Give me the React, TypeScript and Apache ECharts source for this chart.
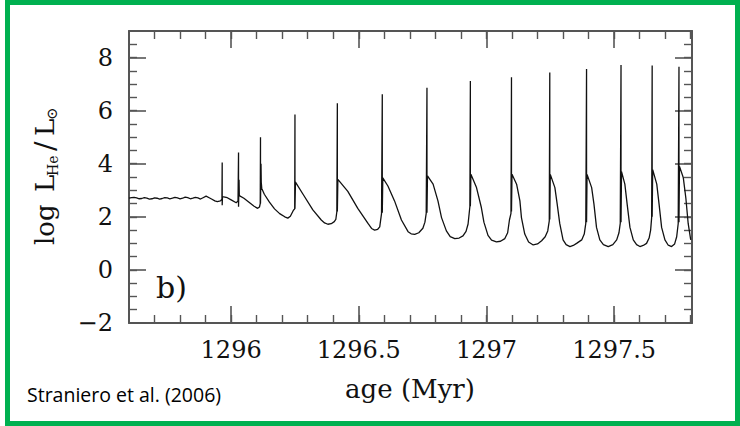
import React, { useEffect, useRef } from 'react';
import * as echarts from 'echarts';

// age (Myr) and log L_He/L_sun, segment by segment
const ages = [
  // quiescent phase
  1295.600, 1295.610, 1295.620, 1295.630, 1295.640, 1295.650, 1295.660, 1295.670, 1295.680, 1295.690,
  1295.700, 1295.710, 1295.720, 1295.730, 1295.740, 1295.750, 1295.760, 1295.770, 1295.780, 1295.790,
  1295.800, 1295.810, 1295.820, 1295.830, 1295.840, 1295.850, 1295.860, 1295.870, 1295.880, 1295.890,
  1295.902, 1295.914, 1295.925, 1295.936, 1295.946, 1295.958, 1295.964,
  // pulse 1
  1295.965, 1295.965, 1295.966, 1295.985, 1296.000, 1296.020, 1296.027,
  // pulse 2
  1296.029, 1296.029, 1296.031, 1296.032, 1296.050, 1296.070, 1296.090, 1296.104, 1296.111, 1296.114,
  // pulse 3
  1296.115, 1296.115, 1296.117, 1296.118, 1296.120, 1296.130, 1296.150, 1296.170, 1296.190, 1296.210,
  1296.222, 1296.232, 1296.244, 1296.249,
  // pulse 4
  1296.250, 1296.250, 1296.252, 1296.281, 1296.320, 1296.353, 1296.366, 1296.379, 1296.392, 1296.404,
  1296.410, 1296.414,
  // pulse 5
  1296.416, 1296.416, 1296.418, 1296.457, 1296.496, 1296.536, 1296.550, 1296.562, 1296.574, 1296.582,
  1296.589,
  // pulse 6
  1296.592, 1296.592, 1296.594, 1296.614, 1296.640, 1296.667, 1296.693, 1296.705, 1296.719, 1296.735,
  1296.751, 1296.759, 1296.764,
  // pulse 7
  1296.767, 1296.767, 1296.769, 1296.791, 1296.810, 1296.824, 1296.843, 1296.858, 1296.876, 1296.893,
  1296.908, 1296.920, 1296.928, 1296.935,
  // pulse 8
  1296.937, 1296.937, 1296.939, 1296.961, 1296.980, 1296.990, 1297.006, 1297.020, 1297.039, 1297.055,
  1297.072, 1297.083, 1297.090, 1297.096,
  // pulse 9
  1297.098, 1297.098, 1297.100, 1297.118, 1297.131, 1297.137, 1297.150, 1297.165, 1297.183, 1297.200,
  1297.216, 1297.230, 1297.240, 1297.246,
  // pulse 10
  1297.248, 1297.248, 1297.250, 1297.268, 1297.277, 1297.287, 1297.300, 1297.312, 1297.327, 1297.340,
  1297.353, 1297.373, 1297.383, 1297.389,
  // pulse 11
  1297.392, 1297.392, 1297.394, 1297.412, 1297.421, 1297.431, 1297.444, 1297.458, 1297.477, 1297.495,
  1297.510, 1297.519, 1297.524,
  // pulse 12
  1297.527, 1297.527, 1297.529, 1297.542, 1297.551, 1297.562, 1297.575, 1297.588, 1297.601, 1297.614,
  1297.627, 1297.637, 1297.643, 1297.647,
  // pulse 13
  1297.649, 1297.649, 1297.651, 1297.667, 1297.676, 1297.686, 1297.699, 1297.712, 1297.725, 1297.737,
  1297.745, 1297.751,
  // pulse 14
  1297.754, 1297.754, 1297.756, 1297.771, 1297.781, 1297.790, 1297.800,
];

const logLHe = [
  // quiescent phase
  2.70, 2.72, 2.73, 2.71, 2.68, 2.69, 2.72, 2.70, 2.67, 2.68,
  2.71, 2.70, 2.67, 2.69, 2.72, 2.71, 2.68, 2.70, 2.73, 2.71,
  2.68, 2.70, 2.74, 2.72, 2.68, 2.70, 2.73, 2.71, 2.67, 2.72,
  2.78, 2.72, 2.66, 2.60, 2.57, 2.60, 2.66,
  // pulse 1
  4.05, 2.44, 2.76, 2.72, 2.64, 2.53, 2.60,
  // pulse 2
  4.42, 2.38, 3.40, 2.80, 2.70, 2.55, 2.40, 2.32, 2.37, 2.50,
  // pulse 3
  5.00, 2.50, 4.00, 3.30, 3.07, 2.85, 2.55, 2.30, 2.12, 2.00,
  1.95, 2.02, 2.25, 2.30,
  // pulse 4
  5.85, 2.30, 3.31, 2.86, 2.26, 1.88, 1.77, 1.72, 1.74, 1.82,
  1.90, 2.19,
  // pulse 5
  6.28, 2.20, 3.41, 2.96, 2.32, 1.75, 1.56, 1.50, 1.53, 1.62,
  2.12,
  // pulse 6
  6.62, 2.15, 3.47, 3.16, 2.60, 1.88, 1.44, 1.36, 1.34, 1.40,
  1.57, 1.80, 2.13,
  // pulse 7
  6.86, 2.15, 3.54, 3.23, 2.60, 1.97, 1.47, 1.25, 1.18, 1.20,
  1.28, 1.45, 1.73, 2.38,
  // pulse 8
  7.12, 2.40, 3.60, 3.10, 2.35, 1.80, 1.30, 1.12, 1.06, 1.08,
  1.18, 1.40, 1.88, 2.13,
  // pulse 9
  7.26, 2.20, 3.60, 3.23, 2.60, 1.97, 1.35, 1.05, 0.94, 0.98,
  1.10, 1.25, 1.47, 1.85,
  // pulse 10
  7.44, 1.90, 3.60, 3.10, 2.48, 1.75, 1.13, 0.95, 0.88, 0.92,
  1.00, 1.13, 1.35, 1.75,
  // pulse 11
  7.57, 1.80, 3.60, 3.10, 2.48, 1.60, 1.13, 0.95, 0.88, 0.95,
  1.13, 1.40, 1.75,
  // pulse 12
  7.72, 1.80, 3.70, 3.23, 2.48, 1.60, 1.13, 0.95, 0.88, 0.92,
  1.00, 1.20, 1.50, 1.97,
  // pulse 13
  7.70, 2.00, 3.78, 3.23, 2.48, 1.60, 1.13, 0.93, 0.88, 0.98,
  1.25, 1.75,
  // pulse 14
  7.65, 1.80, 3.90, 3.47, 2.70, 1.75, 1.13,
];

const xTickLabels = [1296, 1296.5, 1297, 1297.5];
const xMinorTicks = [
  1295.7, 1295.8, 1295.9, 1296.0, 1296.1, 1296.2, 1296.3, 1296.4, 1296.5, 1296.6, 1296.7,
  1296.8, 1296.9, 1297.0, 1297.1, 1297.2, 1297.3, 1297.4, 1297.5, 1297.6, 1297.7, 1297.8,
];
const yTickLabels = [-2, 0, 2, 4, 6, 8];
const yMinorTicks = [
  -1.5, -1, -0.5, 0, 0.5, 1, 1.5, 2, 2.5, 3, 3.5, 4, 4.5, 5, 5.5, 6, 6.5, 7, 7.5, 8, 8.5,
];

const X_MIN = 1295.6;
const X_MAX = 1297.805;
const Y_MIN = -2;
const Y_MAX = 9;

const AXIS_COLOR = '#555';
const SERIF = 'DejaVu Serif';

export default function App() {
  const ref = useRef<HTMLDivElement>(null);

  useEffect(() => {
    if (!ref.current) return;
    const chart = echarts.init(ref.current, undefined, { renderer: 'svg' });

    const xBase = (position: 'top' | 'bottom', showLine: boolean) => ({
      type: 'value' as const,
      min: X_MIN,
      max: X_MAX,
      position,
      gridIndex: 0,
      splitLine: { show: false },
      axisLine: { show: showLine, onZero: false, lineStyle: { color: AXIS_COLOR, width: 2 } },
    });
    const yBase = (position: 'left' | 'right', showLine: boolean) => ({
      type: 'value' as const,
      min: Y_MIN,
      max: Y_MAX,
      position,
      gridIndex: 0,
      splitLine: { show: false },
      axisLine: { show: showLine, onZero: false, lineStyle: { color: AXIS_COLOR, width: 2 } },
    });
    const majorTick = (vals: number[]) => ({
      show: true, inside: true, length: 17, customValues: vals,
      lineStyle: { color: AXIS_COLOR, width: 1.6 },
    });
    const minorTickCfg = (vals: number[]) => ({
      show: true, inside: true, length: 8, customValues: vals,
      lineStyle: { color: AXIS_COLOR, width: 1.4 },
    });
    const noLabel = { show: false };

    const option: any = {
      animation: false,
      backgroundColor: '#fff',
      grid: { left: 129, right: 48, top: 31, bottom: 103, containLabel: false },
      xAxis: [
        {
          ...xBase('bottom', true),
          axisTick: majorTick(xTickLabels),
          axisLabel: {
            show: true, customValues: xTickLabels, margin: 15,
            fontFamily: SERIF, fontSize: 24, color: '#111',
            formatter: (v: number) => String(v),
          },
        },
        { ...xBase('bottom', false), axisTick: minorTickCfg(xMinorTicks), axisLabel: noLabel },
        { ...xBase('top', true), axisTick: majorTick(xTickLabels), axisLabel: noLabel },
        { ...xBase('top', false), axisTick: minorTickCfg(xMinorTicks), axisLabel: noLabel },
      ],
      yAxis: [
        {
          ...yBase('left', true),
          axisTick: majorTick(yTickLabels),
          axisLabel: {
            show: true, customValues: yTickLabels, margin: 16,
            fontFamily: SERIF, fontSize: 24, color: '#111',
            formatter: (v: number) => (v < 0 ? '\u2212' + Math.abs(v) : String(v)),
          },
        },
        { ...yBase('left', false), axisTick: minorTickCfg(yMinorTicks), axisLabel: noLabel },
        { ...yBase('right', true), axisTick: majorTick(yTickLabels), axisLabel: noLabel },
        { ...yBase('right', false), axisTick: minorTickCfg(yMinorTicks), axisLabel: noLabel },
      ],
      series: [
        {
          type: 'line',
          xAxisIndex: 0,
          yAxisIndex: 0,
          data: ages.map((a, i) => [a, logLHe[i]]),
          showSymbol: false,
          symbol: 'none',
          smooth: false,
          clip: true,
          lineStyle: { color: '#111', width: 1.3 },
        },
      ],
      graphic: [
        {
          type: 'rect',
          shape: { x: 7.5, y: 2.5, width: 730, height: 421 },
          style: { fill: 'none', stroke: '#00B050', lineWidth: 5 },
          silent: true,
        },
        {
          type: 'text', x: 410, y: 389,
          style: { text: 'age (Myr)', font: `26px "${SERIF}"`, fill: '#111', align: 'center', verticalAlign: 'middle' },
        },
        {
          type: 'text', x: 45, y: 245, rotation: Math.PI / 2,
          style: { text: 'log', font: `26px "${SERIF}"`, fill: '#111', align: 'left', verticalAlign: 'middle' },
        },
        {
          type: 'text', x: 45, y: 192, rotation: Math.PI / 2,
          style: { text: 'L', font: `26px "${SERIF}"`, fill: '#111', align: 'left', verticalAlign: 'middle' },
        },
        {
          type: 'text', x: 53, y: 176, rotation: Math.PI / 2,
          style: { text: 'He', font: `14px "${SERIF}"`, fill: '#111', align: 'left', verticalAlign: 'middle' },
        },
        {
          type: 'text', x: 45, y: 151, rotation: Math.PI / 2,
          style: { text: '/', font: `28px "${SERIF}"`, fill: '#111', align: 'left', verticalAlign: 'middle' },
        },
        {
          type: 'text', x: 45, y: 136, rotation: Math.PI / 2,
          style: { text: 'L', font: `26px "${SERIF}"`, fill: '#111', align: 'left', verticalAlign: 'middle' },
        },
        {
          type: 'text', x: 52, y: 120, rotation: Math.PI / 2,
          style: { text: '\u2299', font: `15px "${SERIF}"`, fill: '#111', align: 'left', verticalAlign: 'middle' },
        },
        {
          type: 'text', x: 156, y: 287,
          style: { text: 'b)', font: `30px "${SERIF}"`, fill: '#111', align: 'left', verticalAlign: 'middle' },
        },
        {
          type: 'text', x: 27, y: 394,
          style: { text: 'Straniero et al. (2006)', font: '19.5px "Open Sans"', fill: '#000', align: 'left', verticalAlign: 'middle' },
        },
      ],
    };

    chart.setOption(option);
    return () => chart.dispose();
  }, []);

  return (
    <div
      ref={ref}
      style={{ position: 'fixed', left: 0, top: 0, width: 740, height: 426, background: '#fff' }}
    />
  );
}
